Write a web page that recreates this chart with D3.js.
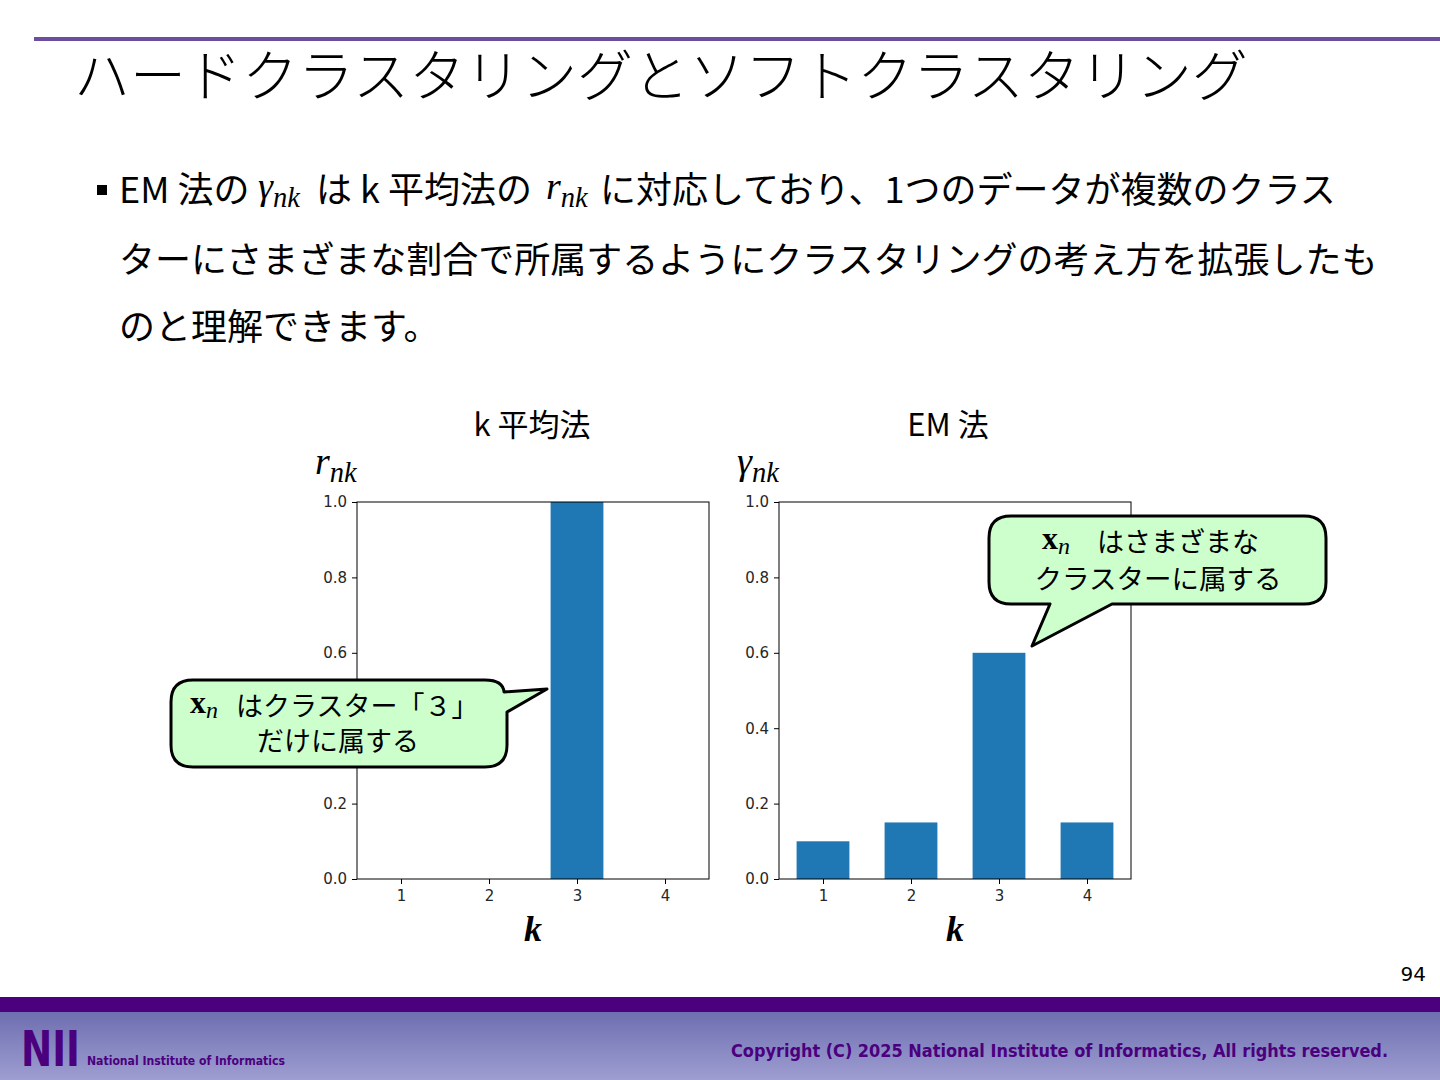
<!DOCTYPE html>
<html>
<head>
<meta charset="utf-8">
<script src="https://cdn.jsdelivr.net/npm/d3@7"></script>
<style>
  body{margin:0;background:#fff;}
  svg{display:block;}
</style>
</head>
<body>
<div class="slide"></div>
<script>
// data
var categories = [1, 2, 3, 4];
var kmeansValues = [0, 0, 1.0, 0];
var emValues = [0.10, 0.15, 0.60, 0.15];
var yTicks = [0.0, 0.2, 0.4, 0.6, 0.8, 1.0];

var W = 1440, H = 1080;
var jp = "'Noto Sans CJK JP', 'Noto Sans', sans-serif";
var serif = "'Liberation Serif', 'DejaVu Serif', serif";

var svg = d3.select(".slide").append("svg")
  .attr("width", W).attr("height", H);

// header line + title
svg.append("rect").attr("x",34).attr("y",37).attr("width",W-34).attr("height",4).attr("fill","#6b4f9e");
svg.append("text").attr("x",74).attr("y",96)
  .style("font-family",jp).style("font-size","56px").style("font-weight",300).attr("fill","#000")
  .text("ハードクラスタリングとソフトクラスタリング");

// bullet
svg.append("rect").attr("x",97).attr("y",185).attr("width",10).attr("height",10).attr("fill","#000");

function jpText(x, y, s, size){
  return svg.append("text").attr("x",x).attr("y",y)
    .style("font-family",jp).style("font-size",(size||36)+"px").attr("fill","#000").text(s);
}
function mathSym(x, y, base, sub, size){
  var t = svg.append("text").attr("x",x).attr("y",y)
    .style("font-family",serif).style("font-style","italic").style("font-size",size+"px").attr("fill","#000");
  t.append("tspan").text(base);
  t.append("tspan").attr("dy",size*0.2).style("font-size",(size*0.75)+"px").text(sub);
  return t;
}
jpText(119,203,"EM 法の");
mathSym(258,199,"γ","nk",38);
jpText(316,203,"は k 平均法の");
mathSym(546,199,"r","nk",38);
jpText(600,203,"に対応しており、1つのデータが複数のクラス");
jpText(119,273,"ターにさまざまな割合で所属するようにクラスタリングの考え方を拡張したも");
jpText(119,340,"のと理解できます。");

// charts
var plotTop = 502, plotBottom = 879, plotW = 352;
function drawChart(left, values, title, titleX, ylab){
  var x = d3.scaleLinear().domain([0.5,4.5]).range([left, left+plotW]);
  var y = d3.scaleLinear().domain([0,1]).range([plotBottom, plotTop]);
  var g = svg.append("g");

  g.selectAll(".bar").data(values).enter().append("rect")
    .attr("class","bar")
    .attr("x",function(d,i){return x(categories[i]-0.3);})
    .attr("width",function(){return x(0.6)-x(0);})
    .attr("y",function(d){return y(d);})
    .attr("height",function(d){return plotBottom - y(d);})
    .attr("fill","#1f77b4");

  g.append("rect").attr("x",left).attr("y",plotTop).attr("width",plotW).attr("height",plotBottom-plotTop)
    .attr("fill","none").attr("stroke","#000").attr("stroke-width",1);

  var ya = g.append("g").attr("transform","translate("+left+",0)")
    .call(d3.axisLeft(y).tickValues(yTicks).tickFormat(d3.format(".1f")).tickSize(5).tickPadding(5));
  var xa = g.append("g").attr("transform","translate(0,"+plotBottom+")")
    .call(d3.axisBottom(x).tickValues(categories).tickFormat(d3.format("d")).tickSize(5).tickPadding(6));
  [ya, xa].forEach(function(a){
    a.select(".domain").remove();
    a.selectAll("text").style("font-family","'DejaVu Sans', sans-serif").style("font-size","15px").attr("fill","#262626");
    a.selectAll("line").attr("stroke","#000");
  });

  g.append("text").attr("x",titleX).attr("y",436).attr("text-anchor","middle")
    .style("font-family",jp).style("font-size","31px").attr("fill","#000").text(title);
  mathSym(left-42, 474, ylab, "nk", 38);
  g.append("text").attr("x",x(2.5)).attr("y",941).attr("text-anchor","middle")
    .style("font-family",serif).style("font-style","italic").style("font-weight","bold").style("font-size","36px").text("k");
}
drawChart(357, kmeansValues, "k 平均法", 532, "r");
drawChart(779, emValues, "EM 法", 948, "γ");

// callouts
function callout(d){
  svg.append("path").attr("d",d).attr("fill","#ccffcc").attr("stroke","#000").attr("stroke-width",3)
    .attr("stroke-linejoin","round");
}
callout("M193,680 H485 Q503,680 504,692 L547,689 L507,712 V745 Q507,767 485,767 H193 Q171,767 171,745 V702 Q171,680 193,680 Z");
callout("M1011,516 H1304 Q1326,516 1326,538 V582 Q1326,604 1304,604 H1112 L1032,646 L1050,604 H1011 Q989,604 989,582 V538 Q989,516 1011,516 Z");

function xn(x, y){
  var t = svg.append("text").attr("x",x).attr("y",y).style("font-family",serif).attr("fill","#000");
  t.append("tspan").style("font-weight","bold").style("font-size","32px").text("x");
  t.append("tspan").attr("dy",5).style("font-style","italic").style("font-size","24px").text("n");
}
xn(190,713);
jpText(236,716,"はクラスター「３」",27);
jpText(338,751,"だけに属する",27).attr("text-anchor","middle");
xn(1042,549);
jpText(1097,552,"はさまざまな",27);
jpText(1158,589,"クラスターに属する",27.5).attr("text-anchor","middle");

// page number
svg.append("text").attr("x",1426).attr("y",981).attr("text-anchor","end")
  .style("font-family","'DejaVu Sans', sans-serif").style("font-size","20px").text("94");

// footer
var grad = svg.append("defs").append("linearGradient").attr("id","foot").attr("x1",0).attr("y1",0).attr("x2",0).attr("y2",1);
grad.append("stop").attr("offset","0%").attr("stop-color","#6e6eb0");
grad.append("stop").attr("offset","100%").attr("stop-color","#9e9ed2");
svg.append("rect").attr("x",0).attr("y",1012).attr("width",W).attr("height",68).attr("fill","url(#foot)");
svg.append("rect").attr("x",0).attr("y",997).attr("width",W).attr("height",15).attr("fill","#4b007e");
svg.append("text").attr("x",21).attr("y",1066).attr("textLength",59).attr("lengthAdjust","spacingAndGlyphs")
  .style("font-family","'DejaVu Sans', sans-serif").style("font-weight","bold").style("font-size","50px")
  .attr("fill","#4b007e").text("NII");
svg.append("text").attr("x",87).attr("y",1065).attr("textLength",198).attr("lengthAdjust","spacingAndGlyphs")
  .style("font-family","'DejaVu Sans', sans-serif").style("font-weight","bold").style("font-size","13px")
  .attr("fill","#4b007e").text("National Institute of Informatics");
svg.append("text").attr("x",731).attr("y",1057).attr("textLength",657).attr("lengthAdjust","spacingAndGlyphs")
  .style("font-family","'DejaVu Sans', sans-serif").style("font-weight","bold").style("font-size","18px")
  .attr("fill","#4b007e").text("Copyright (C) 2025 National Institute of Informatics, All rights reserved.");
</script>
</body>
</html>
